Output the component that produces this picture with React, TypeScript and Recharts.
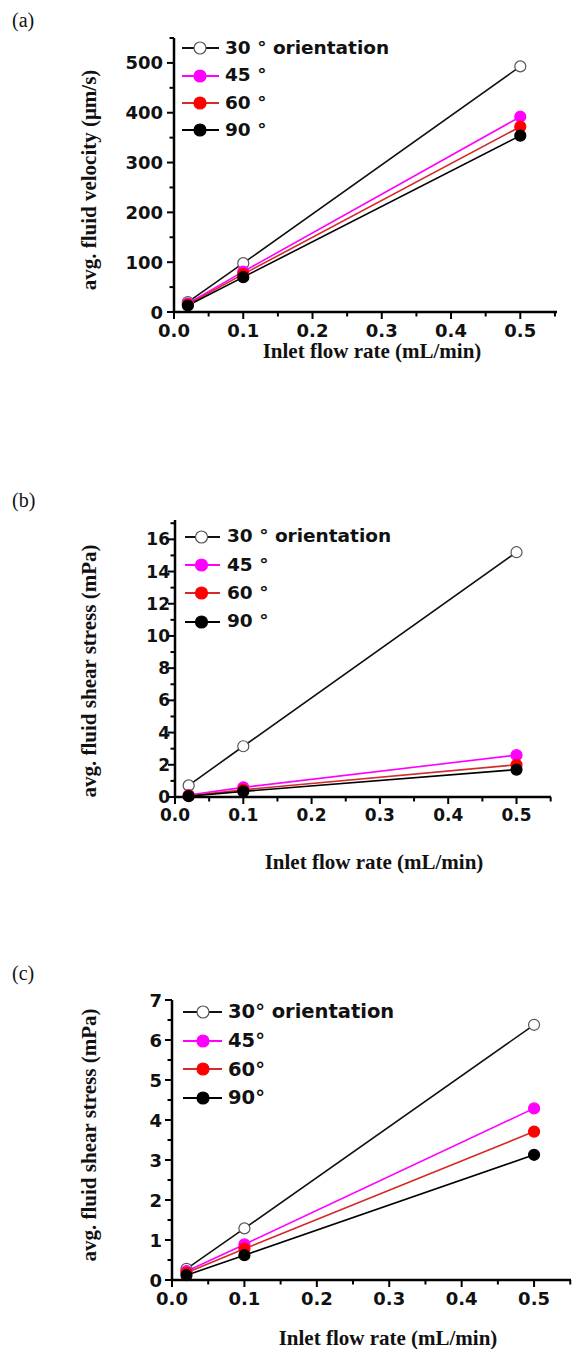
import { LineChart, Line, XAxis, YAxis, Legend } from 'recharts'

// shared x positions (mL/min)
const flowRates = [0.02, 0.1, 0.5]

// (a) avg. fluid velocity (µm/s)
const velocity30 = [20, 98, 493]
const velocity45 = [17, 81, 392]
const velocity60 = [15, 76, 372]
const velocity90 = [13, 70, 354]

// (b) avg. fluid shear stress (mPa)
const shearB30 = [0.72, 3.15, 15.2]
const shearB45 = [0.12, 0.6, 2.6]
const shearB60 = [0.08, 0.45, 2.0]
const shearB90 = [0.05, 0.35, 1.7]

// (c) avg. fluid shear stress (mPa)
const shearC30 = [0.28, 1.29, 6.38]
const shearC45 = [0.22, 0.89, 4.29]
const shearC60 = [0.18, 0.78, 3.71]
const shearC90 = [0.12, 0.62, 3.13]

const legendAB = ['30 \u00b0 orientation', '45 \u00b0', '60 \u00b0', '90 \u00b0']
const legendC = ['30\u00b0 orientation', '45\u00b0', '60\u00b0', '90\u00b0']

const xTicks = [0, 0.05, 0.1, 0.15, 0.2, 0.25, 0.3, 0.35, 0.4, 0.45, 0.5, 0.55]
const xMajor = [0, 0.1, 0.2, 0.3, 0.4, 0.5]
const yTicksA = [0, 50, 100, 150, 200, 250, 300, 350, 400, 450, 500, 550]
const yMajorA = [0, 100, 200, 300, 400, 500]
const yTicksB = [0, 1, 2, 3, 4, 5, 6, 7, 8, 9, 10, 11, 12, 13, 14, 15, 16, 17]
const yMajorB = [0, 2, 4, 6, 8, 10, 12, 14, 16]
const yTicksC = [0, 0.5, 1, 1.5, 2, 2.5, 3, 3.5, 4, 4.5, 5, 5.5, 6, 6.5, 7]
const yMajorC = [0, 1, 2, 3, 4, 5, 6, 7]

const lineColors = ['#111111', '#ff00ff', '#d42a2a', '#000000']
const dotFills = ['#ffffff', '#ff00ff', '#ff0000', '#000000']
const dotStrokes = ['#555555', '#ff00ff', '#ff0000', '#000000']

const SANS = 'DejaVu Sans'
const SERIF = 'Liberation Serif'

const isIn = (list: number[], v: number) => list.some((m) => Math.abs(m - v) < 1e-6)

function XTick(props: any) {
  const { x, y, payload, major, fontSize, gap } = props
  const isMajor = isIn(major, payload.value)
  return (
    <g>
      <line x1={x} x2={x} y1={y} y2={y + (isMajor ? 7 : 4.5)} stroke="#000" strokeWidth={2} />
      {isMajor && (
        <text x={x} y={y + gap} textAnchor="middle" dominantBaseline="central"
          fontFamily={SANS} fontWeight="bold" fontSize={fontSize} fill="#111">
          {payload.value.toFixed(1)}
        </text>
      )}
    </g>
  )
}

function YTick(props: any) {
  const { x, y, payload, major, fontSize, gap } = props
  const isMajor = isIn(major, payload.value)
  return (
    <g>
      <line x1={x} x2={x - (isMajor ? 7 : 4.5)} y1={y} y2={y} stroke="#000" strokeWidth={2} />
      {isMajor && (
        <text x={x - gap} y={y} textAnchor="end" dominantBaseline="central"
          fontFamily={SANS} fontWeight="bold" fontSize={fontSize} fill="#111">
          {payload.value}
        </text>
      )}
    </g>
  )
}

function SeriesLegend({ labels, rowHeight, fontSize, lineW, markerX, textGap }: any) {
  return (
    <div>
      {labels.map((label: string, i: number) => (
        <div key={label} style={{ display: 'flex', alignItems: 'center', height: rowHeight }}>
          <svg width={lineW} height={16} style={{ display: 'block' }}>
            <line x1={0} x2={lineW} y1={8} y2={8} stroke={lineColors[i]} strokeWidth={2} />
            <circle cx={markerX} cy={8} r={6} fill={dotFills[i]} stroke={dotStrokes[i]} strokeWidth={1.2} />
          </svg>
          <span style={{ marginLeft: textGap, fontFamily: SANS, fontWeight: 'bold', fontSize, lineHeight: 1, color: '#111' }}>
            {label}
          </span>
        </div>
      ))}
    </div>
  )
}

function Panel(p: any) {
  const data = flowRates.map((x, i) => ({ x, s30: p.series[0][i], s45: p.series[1][i], s60: p.series[2][i], s90: p.series[3][i] }))
  const keys = ['s30', 's45', 's60', 's90']
  return (
    <div style={{ position: 'absolute', left: 0, top: p.top, width: 572, height: p.height }}>
      <div style={{ position: 'absolute', left: 12, top: p.tagY - p.top - 12, fontFamily: SERIF, fontSize: 20, lineHeight: '24px', color: '#111' }}>
        {p.tag}
      </div>
      <LineChart width={572} height={p.height} data={data}
        margin={{ top: p.plotTop - p.top, right: 572 - p.plotRight, left: 0, bottom: 0 }}>
        <XAxis
          dataKey="x"
          type="number"
          domain={[0, p.xMax]}
          ticks={xTicks}
          interval={0}
          height={p.height - (p.plotBottom - p.top)}
          tickSize={0}
          tickMargin={0}
          tickLine={false}
          axisLine={{ stroke: '#000', strokeWidth: 2.5 }}
          tick={(t: any) => <XTick {...t} major={xMajor} fontSize={p.tickFont} gap={p.xGap} />}
          label={{
            value: 'Inlet flow rate (mL/min)',
            content: () => (
              <text x={p.xLabelX} y={p.xLabelY - p.top} textAnchor="middle" dominantBaseline="central"
                fontFamily={SERIF} fontWeight="bold" fontSize={21} fill="#111">
                Inlet flow rate (mL/min)
              </text>
            ),
          }}
        />
        <YAxis
          type="number"
          domain={[0, p.yMax]}
          ticks={p.yTicks}
          interval={0}
          width={p.plotLeft}
          tickSize={0}
          tickMargin={0}
          tickLine={false}
          axisLine={{ stroke: '#000', strokeWidth: 2.5 }}
          tick={(t: any) => <YTick {...t} major={p.yMajor} fontSize={p.tickFont} gap={p.yGap} />}
          label={{
            value: p.yTitle,
            content: () => {
              const cy = p.yLabelY - p.top
              return (
                <text x={89} y={cy} transform={`rotate(-90 89 ${cy})`} textAnchor="middle" dominantBaseline="central"
                  fontFamily={SERIF} fontWeight="bold" fontSize={21} fill="#111">
                  {p.yTitle}
                </text>
              )
            },
          }}
        />
        <Legend
          layout="vertical"
          align="center"
          verticalAlign="middle"
          wrapperStyle={{ left: p.legendX, top: p.legendY - p.top - p.legendRow / 2, width: 'auto' }}
          content={() => (
            <SeriesLegend labels={p.legend} rowHeight={p.legendRow} fontSize={p.legendFont}
              lineW={p.legendLineW} markerX={p.legendMarkerX} textGap={p.legendGap} />
          )}
        />
        {keys.map((k, i) => (
          <Line
            key={k}
            dataKey={k}
            type="linear"
            stroke={lineColors[i]}
            strokeWidth={1.6}
            dot={{ r: 5.5, fill: dotFills[i], stroke: dotStrokes[i], strokeWidth: 1.2 }}
            activeDot={false}
            isAnimationActive={false}
          />
        ))}
      </LineChart>
    </div>
  )
}

export default function App() {
  return (
    <div style={{ position: 'absolute', left: 0, top: 0, width: 572, height: 1349, background: '#fff' }}>
      <Panel
        tag="(a)" tagY={20} top={0} height={380}
        plotTop={38} plotBottom={312} plotLeft={174} plotRight={557}
        xMax={0.553} yMax={550} yTicks={yTicksA} yMajor={yMajorA}
        series={[velocity30, velocity45, velocity60, velocity90]}
        yTitle={'avg. fluid velocity (\u03bcm/s)'} yLabelY={180}
        xLabelX={372} xLabelY={351}
        tickFont={18} xGap={18} yGap={11}
        legend={legendAB} legendX={182} legendY={48.5} legendRow={27.2} legendFont={18.5}
        legendLineW={37} legendMarkerX={18} legendGap={6}
      />
      <Panel
        tag="(b)" tagY={500} top={440} height={440}
        plotTop={520} plotBottom={797} plotLeft={175} plotRight={551}
        xMax={0.5505} yMax={17.2} yTicks={yTicksB} yMajor={yMajorB}
        series={[shearB30, shearB45, shearB60, shearB90]}
        yTitle="avg. fluid shear stress (mPa)" yLabelY={671}
        xLabelX={374} xLabelY={862}
        tickFont={17} xGap={18} yGap={5}
        legend={legendAB} legendX={185} legendY={536.7} legendRow={28.3} legendFont={18.5}
        legendLineW={35} legendMarkerX={16.5} legendGap={7}
      />
      <Panel
        tag="(c)" tagY={973} top={900} height={449}
        plotTop={1000} plotBottom={1280} plotLeft={172} plotRight={571}
        xMax={0.551} yMax={7} yTicks={yTicksC} yMajor={yMajorC}
        series={[shearC30, shearC45, shearC60, shearC90]}
        yTitle="avg. fluid shear stress (mPa)" yLabelY={1135}
        xLabelX={388} xLabelY={1338}
        tickFont={18} xGap={18} yGap={10}
        legend={legendC} legendX={183} legendY={1012} legendRow={28.7} legendFont={19.5}
        legendLineW={39} legendMarkerX={20} legendGap={6}
      />
    </div>
  )
}
